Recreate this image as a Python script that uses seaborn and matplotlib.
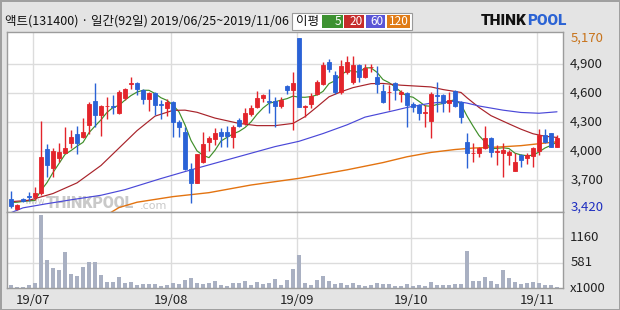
import numpy as np
import pandas as pd
import matplotlib
matplotlib.use("Agg")
import matplotlib.pyplot as plt
from matplotlib.patches import Rectangle
import seaborn as sns

# ---------------- data ----------------
opens = [3500, 3395, 3505, 3530, 3520, 3565, 4025, 3825, 3925, 3975,
         4080, 4180, 4140, 4270, 4515, 4370, 4460, 4465, 4390, 4545,
         4690, 4705, 4628, 4542, 4604, 4485, 4440, 4508, 4300, 4200,
         3810, 3672, 3890, 4096, 4120, 4192, 4200, 4148, 4319, 4285,
         4381, 4456, 4549, 4512, 4514, 4463, 4669, 4628, 5170, 4455,
         4483, 4593, 4697, 4919, 4782, 4611, 4816, 4714, 4885, 4765,
         4865, 4765, 4621, 4605, 4703, 4590, 4600, 4483, 4473, 4395,
         4312, 4580, 4576, 4500, 4618, 4508, 4096, 3975, 3976, 4027,
         4130, 3990, 3983, 3959, 3798, 3959, 3925, 3948, 4003, 4165,
         4182, 4045]
highs = [3590, 3450, 3510, 3575, 3630, 4310, 4070, 4030, 4080, 4250,
         4215, 4255, 4345, 4510, 4700, 4475, 4560, 4575, 4630, 4655,
         4760, 4715, 4645, 4610, 4610, 4525, 4540, 4515, 4320, 4250,
         3875, 3970, 4200, 4150, 4235, 4235, 4257, 4268, 4336, 4440,
         4473, 4618, 4587, 4645, 4560, 4560, 4680, 4816, 5170, 4473,
         4600, 4730, 4919, 4953, 4827, 4936, 4987, 4987, 4902, 4902,
         4902, 4875, 4690, 4680, 4714, 4628, 4610, 4508, 4483, 4473,
         4610, 4714, 4594, 4610, 4628, 4518, 4189, 4086, 4045, 4260,
         4140, 4062, 4079, 4010, 3976, 3969, 3983, 4037, 4223, 4223,
         4189, 4165]
lows = [3410, 3385, 3475, 3480, 3495, 3540, 3735, 3735, 3890, 3975,
        4030, 3970, 4130, 4180, 4250, 4150, 4335, 4385, 4385, 4525,
        4645, 4575, 4490, 4412, 4370, 4335, 4360, 4140, 4145, 3805,
        3465, 3670, 3880, 3995, 4060, 4045, 4045, 4027, 4250, 4268,
        4357, 4440, 4508, 4388, 4250, 4440, 4594, 4216, 4450, 4353,
        4440, 4576, 4680, 4816, 4594, 4594, 4800, 4697, 4714, 4755,
        4816, 4600, 4497, 4422, 4525, 4508, 4250, 4405, 4319, 4250,
        4130, 4405, 4405, 4405, 4456, 4292, 3822, 3890, 3940, 4020,
        3940, 3856, 3736, 3856, 3788, 3832, 3870, 3832, 3959, 4079,
        4038, 4038]
closes = [3430, 3445, 3480, 3525, 3565, 3940, 3855, 4000, 3990, 4035,
          4140, 4080, 4200, 4490, 4375, 4463, 4465, 4450, 4607, 4645,
          4700, 4645, 4542, 4604, 4480, 4480, 4508, 4302, 4250, 3812,
          3672, 3970, 4072, 4130, 4189, 4155, 4155, 4250, 4261, 4388,
          4446, 4549, 4576, 4505, 4466, 4532, 4628, 4703, 4450, 4460,
          4569, 4714, 4885, 4851, 4611, 4875, 4919, 4885, 4765, 4857,
          4870, 4690, 4508, 4612, 4628, 4612, 4473, 4456, 4395, 4400,
          4586, 4570, 4500, 4525, 4463, 4347, 3976, 3980, 4034, 4130,
          3993, 3997, 4010, 3993, 3890, 3907, 3959, 4027, 4165, 4096,
          4045, 4130]
volumes = [77, 30, 30, 77, 123, 1703, 658, 472, 426, 844,
           332, 286, 495, 611, 611, 309, 146, 146, 263, 123,
           146, 77, 100, 100, 100, 54, 77, 123, 100, 193,
           240, 123, 100, 123, 170, 77, 54, 123, 123, 170,
           77, 146, 100, 123, 216, 77, 193, 449, 774, 123,
           77, 193, 286, 170, 100, 123, 77, 123, 77, 54,
           77, 123, 100, 100, 54, 54, 100, 54, 77, 54,
           146, 77, 77, 77, 100, 100, 867, 170, 170, 263,
           170, 100, 426, 240, 146, 100, 123, 146, 123, 77,
           77, 30]

ma5 = [3468, 3470, 3478, 3484, 3489, 3591, 3673, 3777, 3870, 3964,
       4004, 4049, 4089, 4189, 4257, 4322, 4399, 4449, 4472, 4526,
       4573, 4609, 4628, 4627, 4594, 4550, 4523, 4475, 4404, 4270,
       4109, 4001, 3955, 3931, 4007, 4103, 4140, 4176, 4202, 4242,
       4300, 4379, 4444, 4493, 4508, 4526, 4541, 4567, 4556, 4555,
       4562, 4579, 4616, 4696, 4726, 4787, 4828, 4828, 4811, 4860,
       4859, 4813, 4738, 4707, 4662, 4610, 4567, 4556, 4513, 4467,
       4462, 4481, 4490, 4516, 4529, 4481, 4362, 4258, 4160, 4093,
       4023, 4027, 4033, 4025, 3977, 3959, 3952, 3955, 3990, 4031,
       4058, 4093]
ma20_day = [0, 3, 7, 11, 15, 18, 21, 24, 27, 29, 31, 34, 38, 41, 44, 47, 49,
            51, 53, 55, 57, 60, 62, 65, 70, 72, 75, 76, 78, 80, 83, 85, 87, 89, 91]
ma20_val = [3476, 3490, 3560, 3670, 3850, 4030, 4210, 4360, 4420, 4422, 4400,
            4340, 4285, 4262, 4262, 4285, 4355, 4456, 4560, 4612, 4655, 4696,
            4698, 4680, 4662, 4635, 4605, 4550, 4450, 4365, 4280, 4225, 4178,
            4152, 4140]
ma60_day = [0, 2, 6, 10, 15, 19, 25, 29, 31, 37, 44, 48, 52, 56, 59, 64, 66,
            70, 74, 76, 78, 82, 85, 88, 91]
ma60_val = [3362, 3412, 3455, 3495, 3542, 3600, 3715, 3787, 3822, 3925, 4045,
            4100, 4180, 4270, 4350, 4420, 4450, 4495, 4515, 4495, 4465, 4422,
            4398, 4390, 4405]
ma120_day = [16, 18, 21, 27, 33, 40, 48, 56, 62, 66, 70, 74, 77, 81, 85, 88, 91]
ma120_val = [3340, 3415, 3470, 3528, 3569, 3648, 3717, 3805, 3880, 3940, 3985,
             4015, 4030, 4040, 4055, 4075, 4095]

month_labels = ["19/07", "19/08", "19/09", "19/10", "19/11"]
month_first_day = [4, 27, 48, 67, 88]
price_ticks = [5170, 4900, 4600, 4300, 4000, 3700, 3420]
price_tick_labels = ["5,170", "4,900", "4,600", "4,300", "4,000", "3,700", "3,420"]
price_grid = [4900, 4600, 4300, 4000, 3700]
vol_ticks = [1160, 581, 0]
vol_tick_labels = ["1160", "581", "x1000"]
title = "액트(131400) · 일간(92일) 2019/06/25~2019/11/06"
ma_periods = ["5", "20", "60", "120"]

# ---------------- style ----------------
RED = "#e3242b"
BLUE = "#2a62d6"
C_MA = ["#3f8f2a", "#a8232a", "#4a48d8", "#e37310"]
BOX_C = ["#3d9131", "#c62b2b", "#5a55d6", "#e07b16"]
GRID = "#dcdcdc"
FRAME = "#9c9c9c"
BG = "#e4e4e4"

sns.set_theme(style="white", rc={"axes.facecolor": "#ffffff"})
plt.rcParams['font.family'] = ['Noto Sans CJK KR', 'DejaVu Sans']

W, H = 620, 310
fig = plt.figure(figsize=(W / 100, H / 100), dpi=100, facecolor=BG,
                 edgecolor="#a0a0a0", linewidth=1.0)


def box(x0, y0, x1, y1):
    return [x0 / W, 1 - y1 / H, (x1 - x0) / W, (y1 - y0) / H]


ax = fig.add_axes(box(7, 32, 563, 212), facecolor="#ffffff")
axv = fig.add_axes(box(7, 212, 563, 288), facecolor="#ffffff")

df = pd.DataFrame({"day": np.arange(len(opens)), "open": opens, "high": highs,
                   "low": lows, "close": closes, "volume": volumes})
df["color"] = np.where(df["close"] >= df["open"], RED, BLUE)

XL = (-0.667, 92.0)

# ---- price panel ----
for g in price_grid:
    ax.axhline(g, color=GRID, lw=1, zorder=0.5)
for m in month_first_day:
    ax.axvline(m - 0.4, color=GRID, lw=1, zorder=0.5)

# watermark (inside the price panel, behind the marks)
ftr = fig.transFigure
ax.text(25 / W, 1 - 201 / H, "www.", fontsize=6, color="#c9c9c9", va="center",
        family="DejaVu Sans", zorder=1, transform=ftr)
ax.text(46 / W, 1 - 203 / H, "THINKPOOL", fontsize=11.5, color="#c9c9c9",
        va="center", family="Roboto", fontweight="black", zorder=1, transform=ftr)
ax.text(140 / W, 1 - 206 / H, ".com", fontsize=8, color="#c9c9c9",
        va="center", family="DejaVu Sans", zorder=1, transform=ftr)

sns.lineplot(x=df["day"], y=ma5, ax=ax, color=C_MA[0], lw=0.85, zorder=2)
sns.lineplot(x=ma20_day, y=ma20_val, ax=ax, color=C_MA[1], lw=0.85, zorder=2)
sns.lineplot(x=ma60_day, y=ma60_val, ax=ax, color=C_MA[2], lw=0.85, zorder=2)
sns.lineplot(x=ma120_day, y=ma120_val, ax=ax, color=C_MA[3], lw=1.0, zorder=2)

ax.vlines(df["day"], df["low"], df["high"], colors=df["color"], lw=1.0, zorder=3)
body_low = df[["open", "close"]].min(axis=1)
body_h = (df["close"] - df["open"]).abs()
ax.bar(df["day"], body_h, bottom=body_low, width=0.66, color=df["color"],
       edgecolor=df["color"], linewidth=0.6, zorder=4)

ax.set_xlim(*XL)
ax.set_ylim(3369, 5230)
ax.set_xticks([])
ax.set_yticks([])
ax.set_xlabel("")
ax.set_ylabel("")
for s in ax.spines.values():
    s.set_color(FRAME)
    s.set_linewidth(1)

ytr = ax.get_yaxis_transform()
for v, lab in zip(price_ticks, price_tick_labels):
    c = "#222222"
    if v == max(price_ticks):
        c = "#c8741c"
    elif v == min(price_ticks):
        c = "#1f2fc0"
    ax.text(1.013, v, lab, transform=ytr, ha="left", va="center", fontsize=9.5,
            color=c, clip_on=False)

# ---- volume panel ----
for g in vol_ticks[:2]:
    axv.axhline(g, color=GRID, lw=1, zorder=0.5)
for m in month_first_day:
    axv.axvline(m - 0.4, color=GRID, lw=1, zorder=0.5)
sns.barplot(x=df["day"], y=df["volume"], ax=axv, color="#a9b0c2", width=0.66,
            saturation=1, native_scale=True, zorder=2, linewidth=0)
axv.set_xlim(*XL)
axv.set_ylim(0, 1763)
axv.set_xticks([])
axv.set_yticks([])
axv.set_xlabel("")
axv.set_ylabel("")
for s in axv.spines.values():
    s.set_color(FRAME)
    s.set_linewidth(1)
vtr = axv.get_yaxis_transform()
for v, lab in zip(vol_ticks, vol_tick_labels):
    axv.text(1.013, v, lab, transform=vtr, ha="left", va="center", fontsize=9.5,
             color="#222222", clip_on=False)
xtr = axv.get_xaxis_transform()
for m, lab in zip(month_first_day, month_labels):
    axv.text(m - 0.4, -13 / 76, lab, transform=xtr, ha="center", va="center",
             fontsize=9.5, color="#222222", clip_on=False)

# ---- header ----
fig.text(5 / W, 1 - 21 / H, title, fontsize=9, va="center", ha="left", color="#111111")
fig.patches.append(Rectangle((292 / W, 1 - 30 / H), 120 / W, 17 / H,
                             transform=fig.transFigure, facecolor="white",
                             edgecolor="#9a9a9a", lw=0.8))
fig.text(296 / W, 1 - 21.5 / H, "이평", fontsize=9, va="center", ha="left", color="#111111")
bx = [(322, 343), (344, 364), (366, 385), (387, 410)]
for (x0, x1), c, lab in zip(bx, BOX_C, ma_periods):
    fig.patches.append(Rectangle((x0 / W, 1 - 28 / H), (x1 - x0) / W, 13 / H,
                                 transform=fig.transFigure, facecolor=c,
                                 edgecolor="none"))
    fig.text((x1 - 1.5) / W, 1 - 21.5 / H, lab, fontsize=8.5, va="center",
             ha="right", color="white")

fig.text(481 / W, 1 - 21 / H, "THINK", fontsize=11, va="center", ha="left",
         color="#111111", family="Roboto", fontweight="black")
fig.text(527 / W, 1 - 21 / H, "POOL", fontsize=11, va="center", ha="left",
         color="#2b63d4", family="Roboto", fontweight="black")

fig.savefig("out.png", dpi=100, facecolor=BG, edgecolor="#a0a0a0")
